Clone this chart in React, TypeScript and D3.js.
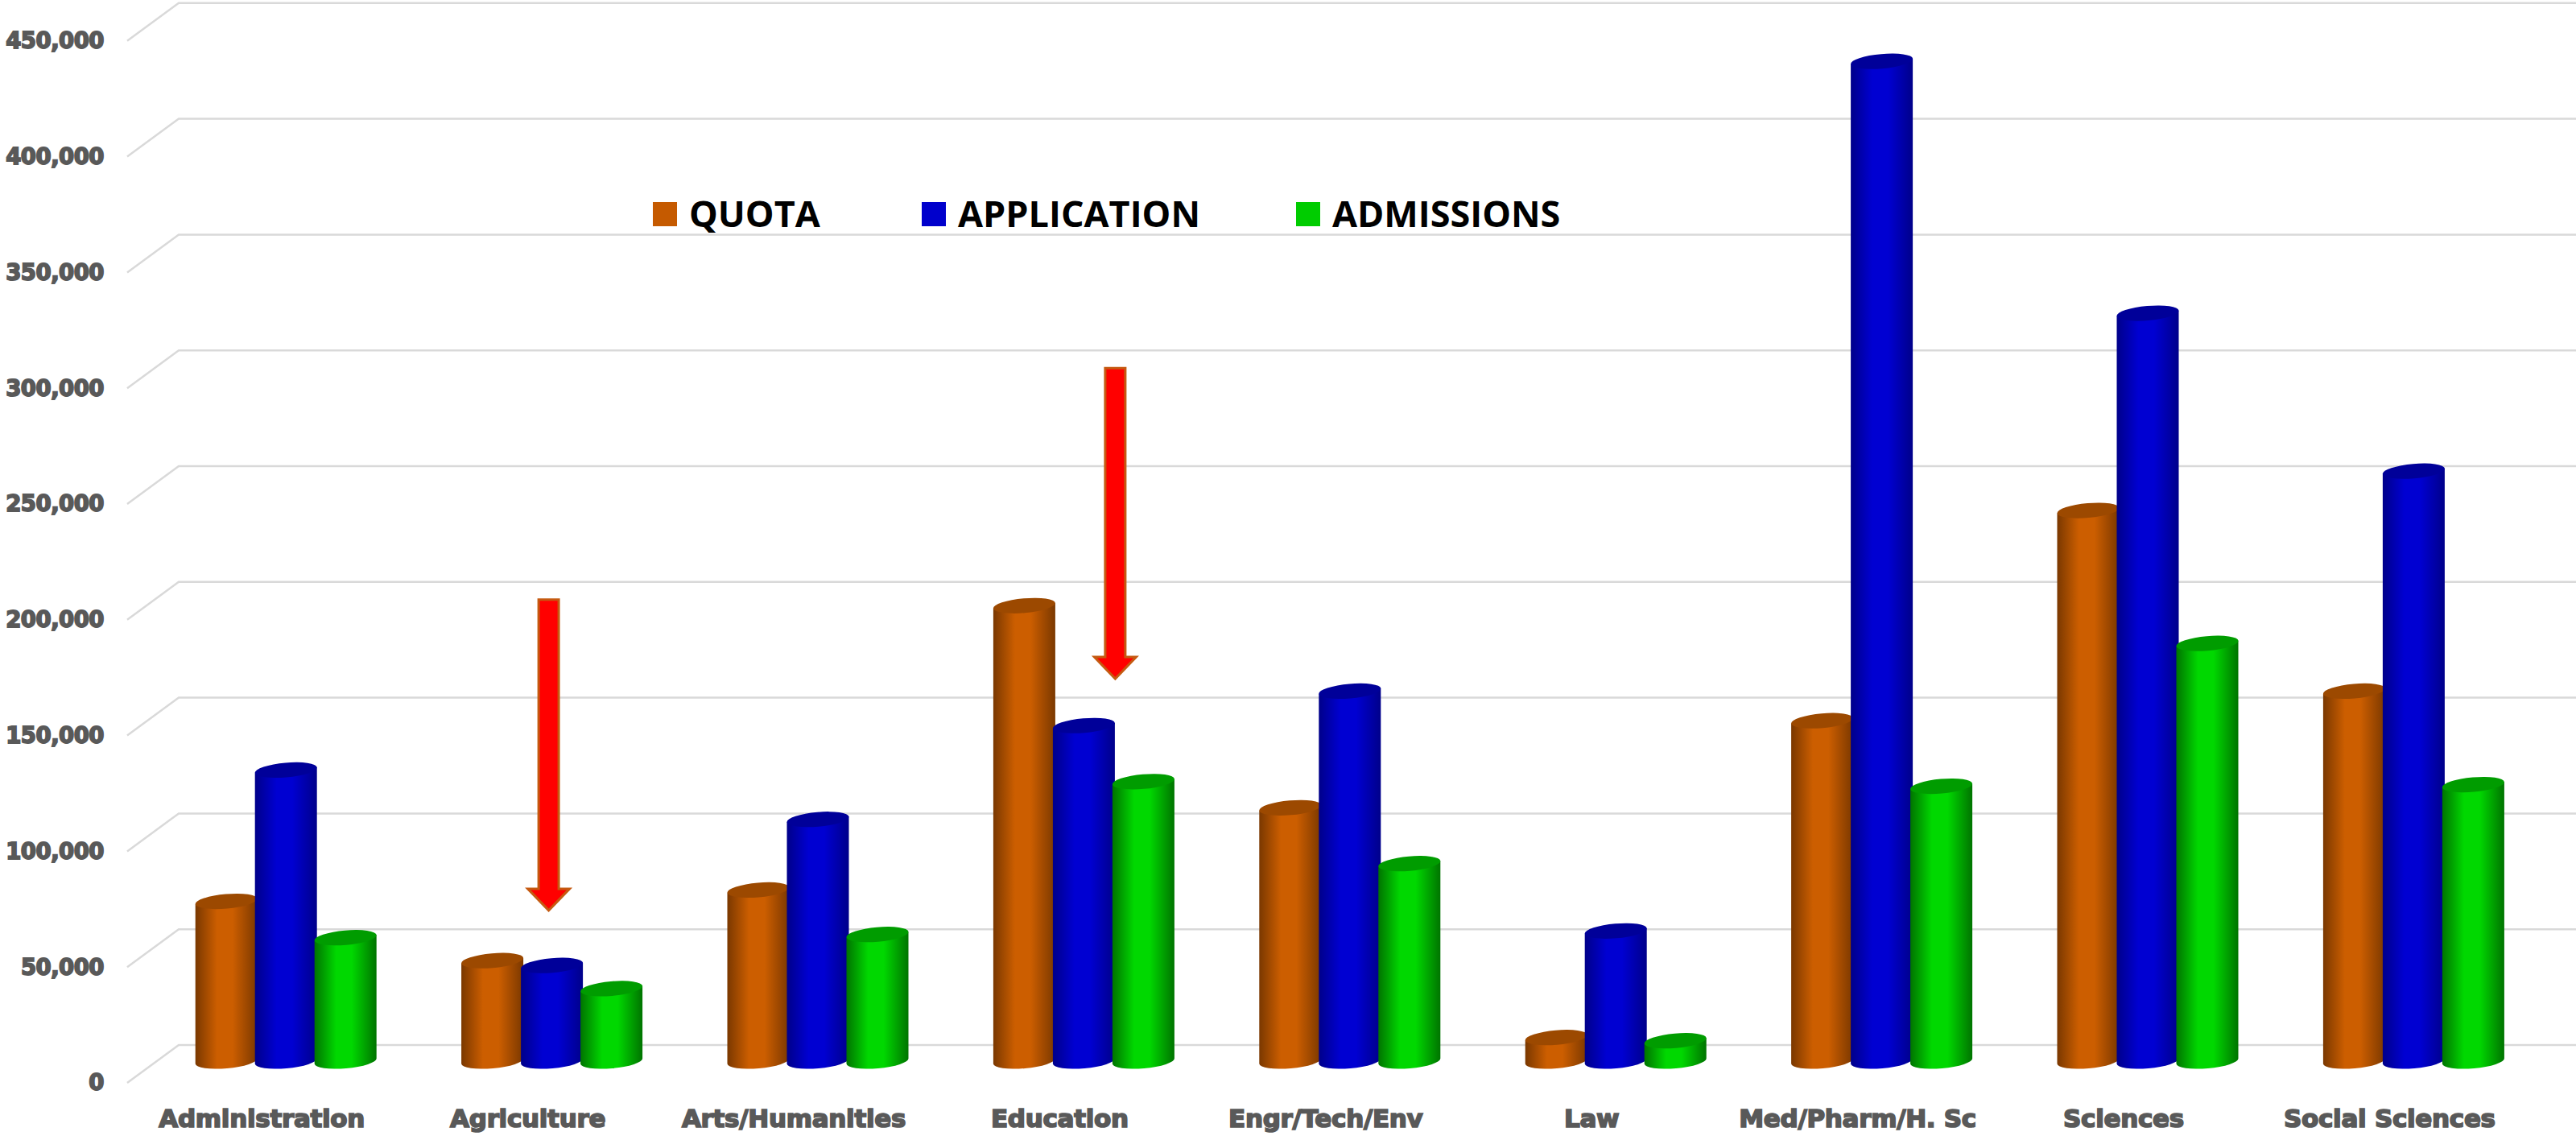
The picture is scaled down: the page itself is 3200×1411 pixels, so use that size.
import React from "react";
import * as d3 from "d3";

const categories = ["Administration", "Agriculture", "Arts/Humanities", "Education", "Engr/Tech/Env", "Law", "Med/Pharm/H. Sc", "Sciences", "Social Sciences"];
const quota = [69700, 44100, 74600, 197400, 110100, 10900, 147700, 238500, 160500];
const application = [126400, 42000, 105100, 145600, 160500, 56900, 432500, 323700, 255500];
const admissions = [54000, 32000, 55400, 121400, 86000, 9500, 119400, 181100, 120100];
const seriesNames = ["QUOTA", "APPLICATION", "ADMISSIONS"];
const tickValues = [0, 50000, 100000, 150000, 200000, 250000, 300000, 350000, 400000, 450000];
const arrowCategories = ["Agriculture", "Education"];
const arrowFrom = [200000, 300000];
const arrowTo = [65400, 165500];

const W = 3200, H = 1411;
const series = [quota, application, admissions];
const palette = [
  { id: "q", edge: "#7a3800", mid: "#cc5e00", top: "#9c4900", key: "#c55a00" },
  { id: "p", edge: "#00008a", mid: "#0000d2", top: "#000099", key: "#0000cc" },
  { id: "g", edge: "#007400", mid: "#00d800", top: "#009c00", key: "#00cc00" },
];
const legendX = [811, 1145, 1610];
const arrowOffset = [-4, 39];

const x = d3.scaleBand<string>().domain(categories).range([190, 190 + 9 * 330.4]);
const inner = d3.scaleBand<string>().domain(seriesNames).range([-111, 111]);
const y = d3.scaleLinear().domain([0, 450000]).range([1320, 1320 - 9 * 143.8]);
const DX = 64, DY_BACK = 22, DY_FRONT = 25;
const BASE_LIFT = 2;
const fmt = d3.format(",");
const RX = 38.5, RY = 9, TILT = 5;
const SLOPE = RX * Math.tan((TILT * Math.PI) / 180);

function Cylinder({ cx, top, base, i }: { cx: number; top: number; base: number; i: number }) {
  const L = cx - RX, R = cx + RX;
  const arc = `A${RX} ${RY} ${-TILT} 0 0`;
  const body = `M${L} ${top + SLOPE}L${L} ${base + SLOPE}${arc} ${R} ${base - SLOPE}L${R} ${top - SLOPE}Z`;
  const cap = `M${L} ${top + SLOPE}${arc} ${R} ${top - SLOPE}${arc} ${L} ${top + SLOPE}Z`;
  return (
    <g>
      <path d={body} fill={`url(#grad-${palette[i].id})`} />
      <path d={cap} fill={palette[i].top} />
    </g>
  );
}

export default function App() {
  return (
    <svg width={W} height={H} viewBox={`0 0 ${W} ${H}`} style={{ position: "absolute", left: 0, top: 0, display: "block", background: "#fff" }}>
      <defs>
        {palette.map((p) => (
          <linearGradient key={p.id} id={`grad-${p.id}`} x1="0" x2="1" y1="0" y2="0">
            <stop offset="0" stopColor={p.edge} />
            <stop offset="0.35" stopColor={p.mid} />
            <stop offset="0.6" stopColor={p.mid} />
            <stop offset="1" stopColor={p.edge} />
          </linearGradient>
        ))}
      </defs>

      {tickValues.map((t) => {
        const yb = y(t) - DY_BACK;
        const yf = y(t) + DY_FRONT;
        return (
          <g key={t}>
            <path d={`M158 ${yf}L${158 + DX} ${yb}L${W} ${yb}`} fill="none" stroke="#d9d9d9" strokeWidth={2.5} />
            <text x={129} y={yf} dy="0.34em" textAnchor="end" fontFamily="DejaVu Sans" fontWeight={700} fontSize={27.5} letterSpacing={-0.5} fill="#595959" stroke="#595959" strokeWidth={1.8}>
              {fmt(t)}
            </text>
          </g>
        );
      })}

      {categories.map((c, ci) => {
        const center = (x(c) as number) + x.bandwidth() / 2;
        return (
          <g key={c}>
            {seriesNames.map((s, i) => (
              <Cylinder key={s} i={i} cx={center + (inner(s) as number) + inner.bandwidth() / 2} top={y(series[i][ci])} base={y(0) - BASE_LIFT} />
            ))}
            <text x={center - 30} y={1400} textAnchor="middle" fontFamily="DejaVu Sans" fontWeight={700} fontSize={31} letterSpacing={-0.3} fill="#595959" stroke="#595959" strokeWidth={1.7}>
              {c}
            </text>
          </g>
        );
      })}

      {arrowCategories.map((c, i) => {
        const cx = (x(c) as number) + x.bandwidth() / 2 + arrowOffset[i];
        const y0 = y(arrowFrom[i]), y1 = y(arrowTo[i]);
        const line = d3.line();
        const pts: [number, number][] = [
          [cx - 12.5, y0], [cx + 12.5, y0], [cx + 12.5, y1 - 28], [cx + 26, y1 - 28], [cx, y1 - 1], [cx - 26, y1 - 28], [cx - 12.5, y1 - 28],
        ];
        return <path key={c} d={line(pts) + "Z"} fill="#ff0000" stroke="#c55a11" strokeWidth={3} />;
      })}

      {seriesNames.map((s, i) => (
        <g key={s}>
          <rect x={legendX[i]} y={251} width={30} height={30} fill={palette[i].key} />
          <text x={legendX[i] + 45} y={282} fontFamily="Open Sans" fontWeight={700} fontSize={45} fill="#000">{s}</text>
        </g>
      ))}
    </svg>
  );
}
